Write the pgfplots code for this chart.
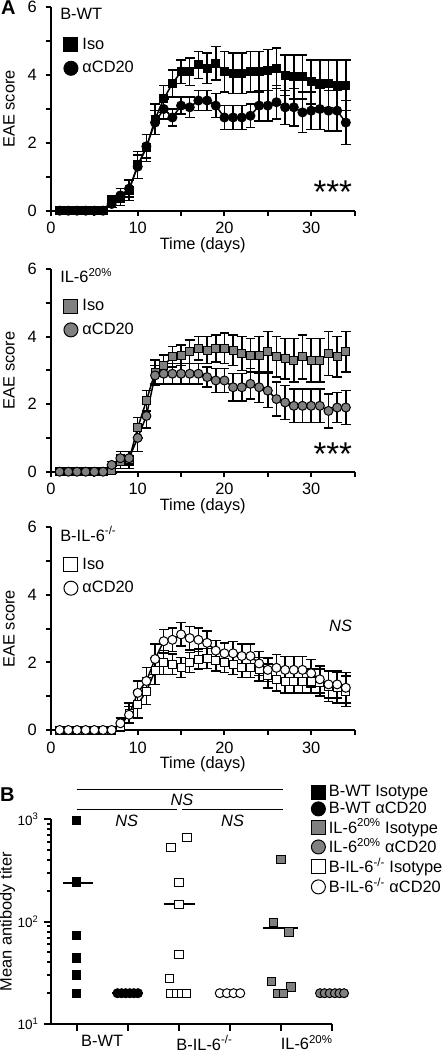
\documentclass[border=0pt]{standalone}
\usepackage{pgfplots}
\pgfplotsset{compat=1.18}
\usepackage{pgfplotstable}
\usepackage{fontspec}
\setmainfont{Liberation Sans}
\definecolor{mgray}{gray}{0.5}

\pgfplotstableread{
d iso isoe cd cde
1 0 0 0 0
2 0 0 0 0
3 0 0 0 0
4 0 0 0 0
5 0 0 0 0
6 0 0 0 0
7 0.3 0.15 0.2 0.1
8 0.4 0.25 0.45 0.2
9 0.6 0.3 0.65 0.25
10 1.35 0.4 1.3 0.35
11 1.85 0.4 1.9 0.35
12 2.7 0.45 2.6 0.35
13 3.3 0.4 3.0 0.3
14 3.75 0.4 2.75 0.25
15 4.1 0.35 3.1 0.25
16 4.1 0.4 3.05 0.3
17 4.3 0.4 3.25 0.3
18 4.2 0.45 3.25 0.3
19 4.35 0.5 3.1 0.35
20 4.1 0.6 2.75 0.35
21 4.05 0.6 2.75 0.35
22 4.05 0.6 2.75 0.35
23 4.1 0.6 2.8 0.35
24 4.1 0.6 3.1 0.45
25 4.15 0.6 3.1 0.45
26 4.2 0.6 3.2 0.5
27 4.0 0.6 3.05 0.5
28 3.95 0.65 3.05 0.55
29 3.95 0.65 2.9 0.6
30 3.8 0.65 2.95 0.55
31 3.75 0.7 3.0 0.6
32 3.75 0.7 2.95 0.6
33 3.7 0.75 2.95 0.6
34 3.7 0.75 2.6 0.65
}\wtdata

\pgfplotstableread{
d iso isoe cd cde
1 0 0 0 0
2 0 0 0 0
3 0 0 0 0
4 0 0 0 0
5 0 0 0 0
6 0 0 0 0
7 0.05 0.1 0.2 0.1
8 0.3 0.2 0.4 0.2
9 0.35 0.25 0.4 0.2
10 1.3 0.3 1.0 0.4
11 2.1 0.3 1.65 0.35
12 2.95 0.35 2.85 0.3
13 3.15 0.3 2.9 0.3
14 3.4 0.3 2.9 0.3
15 3.45 0.3 2.9 0.3
16 3.55 0.35 2.9 0.3
17 3.65 0.35 2.9 0.3
18 3.6 0.4 2.8 0.3
19 3.65 0.4 2.7 0.35
20 3.65 0.45 2.7 0.35
21 3.6 0.45 2.5 0.4
22 3.5 0.5 2.5 0.4
23 3.45 0.5 2.6 0.45
24 3.45 0.55 2.5 0.45
25 3.55 0.6 2.4 0.5
26 3.4 0.6 2.15 0.5
27 3.35 0.6 2.05 0.5
28 3.3 0.65 1.95 0.5
29 3.4 0.65 1.95 0.5
30 3.3 0.65 1.95 0.5
31 3.3 0.65 1.95 0.5
32 3.5 0.65 1.8 0.5
33 3.4 0.6 1.9 0.45
34 3.55 0.6 1.9 0.5
}\iltwdata

\pgfplotstableread{
d iso isoe cd cde
1 0 0 0 0
2 0 0 0 0
3 0 0 0 0
4 0 0 0 0
5 0 0 0 0
6 0 0 0 0
7 0 0 0 0
8 0.1 0.15 0.2 0.15
9 0.5 0.3 0.45 0.25
10 0.75 0.4 1.1 0.35
11 1.15 0.4 1.45 0.4
12 1.75 0.4 2.1 0.45
13 2.0 0.35 2.63 0.35
14 1.95 0.3 2.67 0.35
15 1.85 0.3 2.83 0.35
16 2.0 0.3 2.72 0.35
17 2.1 0.3 2.67 0.35
18 2.12 0.3 2.58 0.35
19 2.05 0.3 2.35 0.3
20 2.0 0.3 2.27 0.3
21 1.95 0.3 2.27 0.35
22 1.85 0.3 2.19 0.35
23 1.85 0.3 2.19 0.35
24 1.8 0.35 1.97 0.35
25 1.6 0.35 1.78 0.35
26 1.5 0.35 1.84 0.4
27 1.45 0.35 1.78 0.4
28 1.45 0.35 1.78 0.4
29 1.45 0.35 1.78 0.4
30 1.45 0.35 1.68 0.4
31 1.4 0.4 1.5 0.4
32 1.3 0.45 1.35 0.4
33 1.25 0.45 1.35 0.4
34 1.15 0.45 1.25 0.45
}\koData

\pgfplotsset{
  eae/.style={
    scale only axis, width=303.5pt, anchor=north west,
    xmin=0, xmax=35, ymin=0, ymax=6,
    axis lines=left,
    axis line style={-, line width=2pt},
    tick align=outside,
    major tick length=5pt,
    every tick/.style={line width=2pt, black},
    xtick={0,5,...,35}, xticklabels={0,,10,,20,,30,},
    ytick={0,1,...,6}, yticklabels={0,,2,,4,,6},
    yticklabel style={xshift=-3.5pt},
    xticklabel style={yshift=-1pt},
    /pgf/number format/assume math mode=true,
    xlabel={Time (days)}, ylabel={EAE score},
    every axis y label/.style={at={(axis description cs:-0.138,0.5)}, rotate=90, anchor=center},
    every axis x label/.style={at={(axis description cs:0.5,0)}, anchor=center, yshift=-34.5pt},
    clip=false,
    legend style={at={(axis description cs:0.042,0.857)}, anchor=north west, draw=none, fill=none, inner sep=0pt, row sep=6.5pt, column sep=3pt, nodes={inner sep=1.5pt}},
    legend cell align=left,
    legend image code/.code={\draw[##1, mark size=7pt] plot coordinates {(7pt,0pt)};},
  },
  errs/.style={error bars/y dir=both, error bars/y explicit,
    error bars/error bar style={line width=1.5pt, black, solid},
    error bars/error mark options={rotate=90, line width=1.5pt, mark size=4.8pt, black, solid}},
  sq/.style={black, line width=1.5pt, mark=square*, mark size=4pt, mark options={solid, fill=#1, draw=black, line width=1pt}},
  ci/.style={black, line width=1.5pt, mark=*, mark size=4.5pt, mark options={solid, fill=#1, draw=black, line width=1pt}},
}

\begin{document}
\fontsize{16.4}{19.7}\selectfont
\begin{tikzpicture}
\useasboundingbox (0pt,0pt) rectangle (447pt,-1052pt);
\node[anchor=north west, inner sep=0pt, font=\bfseries\fontsize{20}{22}\selectfont] at (1pt,-1pt) {A};
\node[anchor=north west, inner sep=0pt, font=\bfseries\fontsize{20}{22}\selectfont] at (0pt,-788pt) {B};

% Panel 1: B-WT
\begin{axis}[eae, at={(51pt,-7.3pt)}, height=203.4pt, legend entries={Iso, αCD20}]
\addplot[sq=black, errs] table[x=d, y=iso, y error=isoe]{\wtdata};
\addplot[ci=black, errs] table[x=d, y=cd, y error=cde]{\wtdata};
\node[anchor=west, inner sep=0pt, yshift=-6.5pt] at (axis description cs:0.03,1) {B-WT};
\node[anchor=north, inner sep=0pt, font=\fontsize{33}{36}\selectfont] at (axis cs:32.5,0.9) {***};
\end{axis}

% Panel 2: IL-6 20%
\begin{axis}[eae, at={(51pt,-269pt)}, height=202.7pt, legend entries={Iso, αCD20}]
\addplot[sq=mgray, errs] table[x=d, y=iso, y error=isoe]{\iltwdata};
\addplot[ci=mgray, errs] table[x=d, y=cd, y error=cde]{\iltwdata};
\node[anchor=west, inner sep=0pt, yshift=-6.5pt] at (axis description cs:0.03,1) {IL-6\textsuperscript{20\%}};
\node[anchor=north, inner sep=0pt, font=\fontsize{33}{36}\selectfont] at (axis cs:32.5,0.87) {***};
\end{axis}

% Panel 3: B-IL-6-/-
\begin{axis}[eae, at={(51pt,-527.3pt)}, height=202.7pt, legend entries={Iso, αCD20}]
\addplot[sq=white, errs] table[x=d, y=iso, y error=isoe]{\koData};
\addplot[ci=white, errs] table[x=d, y=cd, y error=cde]{\koData};
\node[anchor=west, inner sep=0pt, yshift=-6.5pt] at (axis description cs:0.03,1) {B-IL-6\textsuperscript{-/-}};
\node[anchor=center, inner sep=0pt, font=\itshape] at (axis cs:33.4,3.08) {NS};
\end{axis}

% Panel B
\begin{axis}[
  scale only axis, width=281.3pt, height=204.7pt, anchor=north west, at={(51pt,-819.3pt)},
  ymode=log, ymin=10, ymax=1000, xmin=-0.5, xmax=5,
  axis lines=left, axis line style={-, line width=2pt},
  tick align=outside,
  major tick length=7pt, minor tick length=3.5pt,
  every tick/.style={line width=2pt, black},
  xtick={0,1,2,3,4,5}, xticklabels={,,,,,},
  extra x ticks={0.5,2.5,4.5},
  extra x tick labels={B-WT, B-IL-6\textsuperscript{-/-}, IL-6\textsuperscript{20\%}},
  extra x tick style={major tick length=0pt, xticklabel style={yshift=-6pt}},
  ytick={10,100,1000},
  yticklabels={10\textsuperscript{1}, 10\textsuperscript{2}, 10\textsuperscript{3}},
  yticklabel style={font=\fontsize{13.5}{15}\selectfont},
  minor ytick={20,30,40,50,60,70,80,90,200,300,400,500,600,700,800,900},
  ylabel={Mean antibody titer},
  every axis y label/.style={at={(axis description cs:-0.155,0.5)}, rotate=90, anchor=center},
  clip=false,
  legend style={at={(axis description cs:0.925,1.175)}, anchor=north west, draw=none, fill=none, inner sep=0pt, row sep=0pt, column sep=2pt, nodes={inner sep=1.5pt}},
  legend cell align=left,
  legend image code/.code={\draw[#1, mark size=7pt] plot coordinates {(7pt,0pt)};},
]
\addlegendimage{only marks, mark=square*, mark options={fill=black, draw=black, line width=1pt}}
\addlegendimage{only marks, mark=*, mark options={fill=black, draw=black, line width=1pt}}
\addlegendimage{only marks, mark=square*, mark options={fill=mgray, draw=black, line width=1pt}}
\addlegendimage{only marks, mark=*, mark options={fill=mgray, draw=black, line width=1pt}}
\addlegendimage{only marks, mark=square*, mark options={fill=white, draw=black, line width=1pt}}
\addlegendimage{only marks, mark=*, mark options={fill=white, draw=black, line width=1pt}}
\legend{B-WT Isotype, B-WT αCD20, IL-6\textsuperscript{20\%} Isotype, IL-6\textsuperscript{20\%} αCD20, B-IL-6\textsuperscript{-/-} Isotype, B-IL-6\textsuperscript{-/-} αCD20}

\addplot[forget plot, only marks, mark=square*, mark size=4.2pt, mark options={fill=black, draw=black, line width=1pt}] coordinates {(0,980) (0,245) (0,73) (0,44) (0,30) (0,20)};
\addplot[forget plot, only marks, mark=*, mark size=4.5pt, mark options={fill=black, draw=black, line width=1pt}] coordinates {(0.8,20) (0.88,20) (0.96,20) (1.04,20) (1.12,20) (1.2,20)};
\addplot[forget plot, only marks, mark=square*, mark size=4.2pt, mark options={fill=white, draw=black, line width=1pt}] coordinates {(1.85,528) (2.16,667) (2.0,240) (2.0,148) (2.0,48) (1.82,28) (1.85,20) (1.95,20) (2.05,20) (2.15,20)};
\addplot[forget plot, only marks, mark=*, mark size=4.5pt, mark options={fill=white, draw=black, line width=1pt}] coordinates {(2.8,20) (2.94,20) (3.07,20) (3.2,20)};
\addplot[forget plot, only marks, mark=square*, mark size=4.2pt, mark options={fill=mgray, draw=black, line width=1pt}] coordinates {(4.0,406) (3.85,98) (4.15,79) (3.81,26) (4.19,23) (3.93,20) (4.05,20)};
\addplot[forget plot, only marks, mark=*, mark size=4.5pt, mark options={fill=mgray, draw=black, line width=1pt}] coordinates {(4.76,20) (4.85,20) (4.95,20) (5.05,20) (5.14,20) (5.23,20)};
% means
\addplot[forget plot, black, line width=1.8pt] coordinates {(-0.27,237) (0.33,237)};
\addplot[forget plot, black, line width=1.8pt] coordinates {(0.7,20) (1.3,20)};
\addplot[forget plot, black, line width=1.8pt] coordinates {(1.7,148) (2.32,148)};
\addplot[forget plot, black, line width=1.8pt] coordinates {(2.7,20) (3.3,20)};
\addplot[forget plot, black, line width=1.8pt] coordinates {(3.65,86) (4.33,86)};
\addplot[forget plot, black, line width=1.8pt] coordinates {(4.7,20) (5.3,20)};
% significance
\draw[line width=1pt] (axis cs:0,1963) -- (axis cs:4.04,1963);
\draw[line width=1pt] (axis cs:0,1253) -- (axis cs:1.96,1253);
\draw[line width=1pt] (axis cs:2.06,1253) -- (axis cs:4.04,1253);
\node[font=\itshape, inner sep=0pt] at (axis cs:2.06,1545) {NS};
\node[font=\itshape, inner sep=0pt] at (axis cs:0.98,974) {NS};
\node[font=\itshape, inner sep=0pt] at (axis cs:3.05,974) {NS};
\end{axis}
\end{tikzpicture}
\end{document}
